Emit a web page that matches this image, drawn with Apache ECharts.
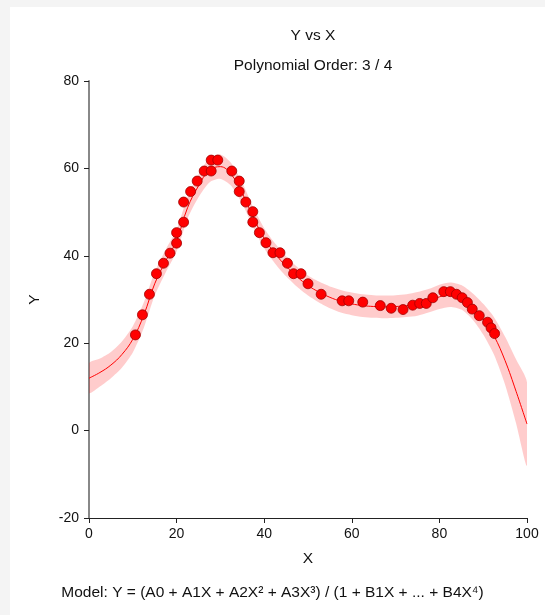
<!DOCTYPE html>
<html>
<head>
<meta charset="utf-8">
<script src="https://cdn.jsdelivr.net/npm/echarts@6/dist/echarts.min.js"></script>
<style>
html,body{margin:0;padding:0;background:#f4f4f4;}
#panel{position:absolute;left:10px;top:7px;right:0;bottom:0;background:#ffffff;}
#chart{position:absolute;left:0;top:0;width:545px;height:615px;}
</style>
</head>
<body>
<div id="panel"></div>
<div id="chart"></div>
<script>
// Observed data points
const pointX = [10.6,12.2,13.8,15.4,17.0,18.5,20.0,20.0,21.6,21.6,23.2,24.7,26.3,27.9,27.9,29.4,32.6,34.3,34.3,35.8,37.4,37.4,38.9,40.4,42.0,43.6,45.3,46.7,48.4,50.0,53.0,57.8,59.3,62.5,66.5,69.0,71.7,73.9,75.5,77.0,78.5,81.0,82.5,83.9,85.2,86.4,87.5,89.1,91.0,91.8,92.6];
const pointY = [21.9,26.5,31.2,35.9,38.3,40.6,42.9,45.3,47.7,52.3,54.7,57.1,59.4,59.4,61.9,61.9,59.4,57.1,54.7,52.3,50.1,47.7,45.3,43.0,40.7,40.7,38.3,35.9,35.9,33.6,31.2,29.7,29.7,29.4,28.6,28.0,27.7,28.7,29.1,29.1,30.4,31.8,31.8,31.2,30.4,29.3,27.8,26.3,24.8,23.5,22.2];

// Fitted curve and confidence band
const curveX = [0,2.5,5,7.5,10,12.5,15,17.5,20,22.5,25,27.5,30,32.5,35,37.5,40,42.5,45,47.5,50,52.5,55,57.5,60,62.5,65,67.5,70,72.5,75,77.5,80,82.5,85,87.5,90,92.5,95,97.5,100];
const curveY = [12.0,13.3,15.0,17.4,20.9,26.4,33.6,38.8,43.5,51.0,56.0,59.6,60.4,58.6,54.3,48.8,44.0,40.5,37.6,35.2,33.2,31.7,30.5,29.6,29.0,28.6,28.4,28.3,28.4,28.6,29.0,29.7,30.6,31.1,30.5,28.5,25.5,21.6,16.0,9.0,1.5];
const bandUpper = [15.4,16.5,18.0,20.4,23.9,29.3,36.3,41.4,46.0,53.5,58.6,62.4,63.2,61.2,56.7,51.1,46.3,42.8,39.9,37.5,35.5,34.1,33.0,32.2,31.6,31.2,31.0,30.9,31.0,31.2,31.7,32.4,33.4,33.9,33.3,31.5,29.0,25.9,21.5,16.3,11.0];
const bandLower = [8.6,10.1,12.0,14.4,17.9,23.5,30.9,36.2,41.0,48.5,53.4,56.8,57.6,56.0,51.9,46.5,41.7,38.2,35.3,32.9,30.9,29.3,28.0,27.0,26.4,26.0,25.8,25.7,25.8,26.0,26.3,27.0,27.8,28.3,27.7,25.5,22.0,17.3,10.5,1.7,-8.0];

// Axis ticks
const xTicks = [0,20,40,60,80,100];
const yTicks = [-20,0,20,40,60,80];

const chart = echarts.init(document.getElementById('chart'), null, {renderer:'canvas'});
const FONT = 'Liberation Sans, Arial, sans-serif';

const pts = pointX.map((x,i)=>[x, pointY[i]]);
const curve = curveX.map((x,i)=>[x, curveY[i]]);

chart.setOption({
  backgroundColor: 'transparent',
  animation: false,
  title: [
    {text:'Y vs X', left:308, top:23, textAlign:'center',
     textStyle:{fontFamily:FONT, fontSize:15.5, fontWeight:'normal', color:'#111'}},
    {text:'Polynomial Order: 3 / 4', left:308, top:53, textAlign:'center',
     textStyle:{fontFamily:FONT, fontSize:15.5, fontWeight:'normal', color:'#111'}}
  ],
  grid: {left:89, right:18, top:81, bottom:97, containLabel:false},
  xAxis: {
    type:'value', min:xTicks[0], max:xTicks[xTicks.length-1], interval:20,
    name:'X', nameLocation:'middle', nameGap:33,
    nameTextStyle:{fontFamily:FONT, fontSize:15.5, color:'#111'},
    axisLine:{show:true, onZero:false, lineStyle:{color:'#222', width:1}},
    axisTick:{show:true, length:5, lineStyle:{color:'#222'}},
    axisLabel:{fontFamily:FONT, fontSize:14, color:'#111', margin:9},
    splitLine:{show:false}
  },
  yAxis: {
    type:'value', min:yTicks[0], max:yTicks[yTicks.length-1], interval:20,
    name:'Y', nameLocation:'middle', nameGap:46, nameRotate:90,
    nameTextStyle:{fontFamily:FONT, fontSize:15.5, color:'#111'},
    axisLine:{show:true, onZero:false, lineStyle:{color:'#888', width:2}},
    axisTick:{show:true, length:5, lineStyle:{color:'#222'}},
    axisLabel:{fontFamily:FONT, fontSize:14, color:'#111', margin:10},
    splitLine:{show:false}
  },
  series: [
    {
      type:'custom', silent:true, z:1,
      data:[[0,0]],
      renderItem: function(params, api){
        const poly = [];
        for (let i=0;i<curveX.length;i++) poly.push(api.coord([curveX[i], bandUpper[i]]));
        for (let i=curveX.length-1;i>=0;i--) poly.push(api.coord([curveX[i], bandLower[i]]));
        return {type:'polygon', shape:{points:poly, smooth:0.25}, style:{fill:'rgba(255,0,0,0.2)', stroke:null}};
      },
      clip:true
    },
    {
      type:'line', data:curve, smooth:0.4, symbol:'none', z:2,
      lineStyle:{color:'#ff0000', width:1}
    },
    {
      type:'scatter', data:pts, symbol:'circle', symbolSize:10, z:3,
      itemStyle:{color:'#ff0000', borderColor:'#a00000', borderWidth:0.8, opacity:1}
    }
  ],
  graphic: [
    {type:'text', left:'center', top:585,
     style:{text:'Model: Y = (A0 + A1X + A2X² + A3X³) / (1 + B1X + ... + B4X⁴)', fontFamily:FONT, fontSize:15.5, fill:'#111'}}
  ]
});
</script>
</body>
</html>
